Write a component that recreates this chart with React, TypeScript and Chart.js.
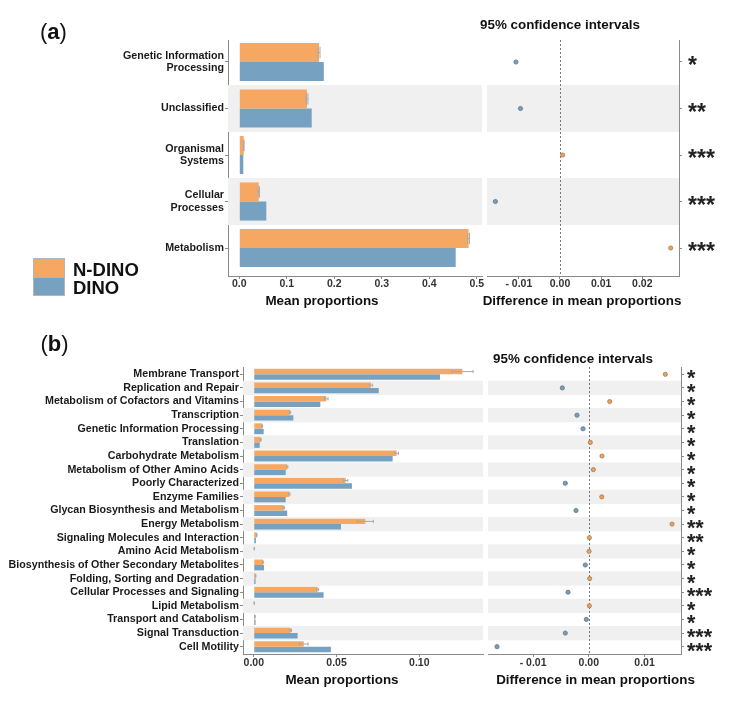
import React, { useEffect, useRef } from "react";
import { Chart, registerables } from "chart.js";
Chart.register(...registerables);

// ---------------- Panel (a) data ----------------
const A_CATEGORIES: (string | string[])[] = [
  ["Genetic Information", "Processing"],
  "Unclassified",
  ["Organismal", "Systems"],
  ["Cellular", "Processes"],
  "Metabolism",
];
const A_NDINO = [0.168, 0.1426, 0.0093, 0.0409, 0.483];
const A_DINO = [0.178, 0.1525, 0.0084, 0.0569, 0.4558];
const A_NDINO_ERR = [0.002, 0.002, 0.0008, 0.0015, 0.002];
const A_DIFF = [-0.0107, -0.0096, 0.00066, -0.0157, 0.0269];
const A_SIG = ["*", "**", "***", "***", "***"];
const A_BAR_TICKS = [0, 0.1, 0.2, 0.3, 0.4, 0.5];
const A_BAR_TICK_LABELS = ["0.0", "0.1", "0.2", "0.3", "0.4", "0.5"];
const A_CI_TICKS = [-0.01, 0, 0.01, 0.02];
const A_CI_TICK_LABELS = ["- 0.01", "0.00", "0.01", "0.02"];
const A_BAR_RANGE = [-0.0238, 0.5112];
const A_CI_RANGE = [-0.01774, 0.02892];
const A_ROW_RANGE = [-0.473, 4.602];

// ---------------- Panel (b) data ----------------
const B_CATEGORIES = [
  "Membrane Transport",
  "Replication and Repair",
  "Metabolism of Cofactors and Vitamins",
  "Transcription",
  "Genetic Information Processing",
  "Translation",
  "Carbohydrate Metabolism",
  "Metabolism of Other Amino Acids",
  "Poorly Characterized",
  "Enzyme Families",
  "Glycan Biosynthesis and Metabolism",
  "Energy Metabolism",
  "Signaling Molecules and Interaction",
  "Amino Acid Metabolism",
  "Biosynthesis of Other Secondary Metabolites",
  "Folding, Sorting and Degradation",
  "Cellular Processes and Signaling",
  "Lipid Metabolism",
  "Transport and Catabolism",
  "Signal Transduction",
  "Cell Motility",
];
const B_NDINO = [0.126, 0.0708, 0.0438, 0.0219, 0.005, 0.0042, 0.0863, 0.0202, 0.0555, 0.0215, 0.0181, 0.0674, 0.0018, 0.0003, 0.0056, 0.0011, 0.0386, 0.0003, 0.0007, 0.0223, 0.0302];
const B_DINO = [0.1125, 0.0755, 0.0402, 0.0239, 0.006, 0.0036, 0.0839, 0.0193, 0.0593, 0.0193, 0.0202, 0.0527, 0.0013, 0.0003, 0.0062, 0.0011, 0.0422, 0.0003, 0.0011, 0.0265, 0.0466];
const B_NDINO_ERR = [0.0065, 0.001, 0.0011, 0.0004, 0.0003, 0.0003, 0.0012, 0.0004, 0.0013, 0.0004, 0.0004, 0.0049, 0.0002, 0.0001, 0.0002, 0.0002, 0.0006, 0.0001, 0.0002, 0.0005, 0.0026];
const B_DIFF = [0.01374, -0.00476, 0.00375, -0.00212, -0.00104, 0.00027, 0.00237, 0.00081, -0.00422, 0.00232, -0.0023, 0.01494, 0.0001, 0.00004, -0.00063, 0.00015, -0.00373, 0.0001, -0.00045, -0.00422, -0.01648];
const B_SIG = ["*", "*", "*", "*", "*", "*", "*", "*", "*", "*", "*", "**", "**", "*", "*", "*", "***", "*", "*", "***", "***"];
const B_BAR_TICKS = [0, 0.05, 0.1];
const B_BAR_TICK_LABELS = ["0.00", "0.05", "0.10"];
const B_CI_TICKS = [-0.01, 0, 0.01];
const B_CI_TICK_LABELS = ["- 0.01", "0.00", "0.01"];
const B_BAR_RANGE = [-0.0065, 0.1385];
const B_CI_RANGE = [-0.0181, 0.01655];
const B_ROW_RANGE = [-0.536, 20.536];

// ---------------- styles ----------------
const FONT = "'Liberation Sans', Arial, Helvetica, sans-serif";
const ORANGE = "#F6A862";
const BLUE = "#76A1C1";
const BAND = "#F0F0F0";
const AXIS = "#8a8a8a";
const TICK_COLOR = "#333333";
const LABEL_COLOR = "#1a1a1a";
const PT_OR = "#E3A266";
const PT_OR_E = "#B07A48";
const PT_BL = "#7E9DB4";
const PT_BL_E = "#56768F";
const ERR = "#a8a8a8";

const tickFont = { family: FONT, size: 10.5, weight: "bold" as const, lineHeight: 1 };

function xAxis(range: number[], ticks: number[], labels: string[], height: number, pad: number) {
  return {
    type: "linear",
    position: "bottom",
    min: range[0],
    max: range[1],
    bounds: "data",
    offset: false,
    afterBuildTicks: (s: any) => {
      s.ticks = ticks.map((v) => ({ value: v }));
    },
    afterFit: (s: any) => {
      s.height = height;
    },
    ticks: {
      autoSkip: false,
      maxRotation: 0,
      minRotation: 0,
      padding: pad,
      color: TICK_COLOR,
      font: tickFont,
      callback: (_v: any, i: number) => labels[i],
    },
    grid: { display: true, offset: false, drawOnChartArea: false, drawTicks: true, tickLength: 3, color: AXIS, lineWidth: 1 },
    border: { display: true, color: AXIS, width: 1 },
  };
}

function rowAxis(rowRange: number[], labels: any[], width: number, position: string, font: any, color: string, pad: number, labelOffset: number) {
  return {
    type: "linear",
    position,
    reverse: true,
    min: rowRange[0],
    max: rowRange[1],
    bounds: "data",
    offset: false,
    afterBuildTicks: (s: any) => {
      s.ticks = labels.map((_l, i) => ({ value: i }));
    },
    afterFit: (s: any) => {
      s.width = width;
    },
    ticks: {
      autoSkip: false,
      padding: pad,
      color,
      font,
      labelOffset,
      callback: (_v: any, i: number) => labels[i],
    },
    grid: { display: true, offset: false, drawOnChartArea: false, drawTicks: true, tickLength: 3, color: AXIS, lineWidth: 1 },
    border: { display: true, color: AXIS, width: 1 },
  };
}

function bandRows(n: number) {
  const rows: number[] = [];
  for (let i = 1; i < n; i += 2) rows.push(i);
  return rows;
}

function errPlugin(vals: number[], errs: number[]) {
  return {
    id: "errbars",
    afterDatasetsDraw(chart: any) {
      const meta = chart.getDatasetMeta(0);
      const xs = chart.scales.x;
      const ctx = chart.ctx;
      ctx.save();
      ctx.strokeStyle = ERR;
      ctx.lineWidth = 1;
      meta.data.forEach((el: any, i: number) => {
        const y = el.y;
        const h = el.height;
        const x0 = xs.getPixelForValue(vals[i] - errs[i]);
        const x1 = xs.getPixelForValue(vals[i] + errs[i]);
        ctx.beginPath();
        ctx.moveTo(x0, y);
        ctx.lineTo(x1, y);
        ctx.moveTo(x0, y - h * 0.3);
        ctx.lineTo(x0, y + h * 0.3);
        ctx.moveTo(x1, y - h * 0.3);
        ctx.lineTo(x1, y + h * 0.3);
        ctx.stroke();
      });
      ctx.restore();
    },
  };
}

const zeroLinePlugin = {
  id: "zeroLine",
  afterDatasetDraw(chart: any, args: any) {
    if (args.meta.type !== "bar") return;
    const x = Math.round(chart.scales.x.getPixelForValue(0)) + 0.5;
    const { top, bottom } = chart.chartArea;
    const ctx = chart.ctx;
    ctx.save();
    ctx.strokeStyle = "#777777";
    ctx.lineWidth = 1;
    ctx.setLineDash([2, 2]);
    ctx.beginPath();
    ctx.moveTo(x, top);
    ctx.lineTo(x, bottom);
    ctx.stroke();
    ctx.restore();
  },
};

function barConfig(p: any) {
  const n = p.cats.length;
  return {
    type: "bar",
    data: {
      datasets: [
        {
          label: "N-DINO",
          data: p.ndino.map((v: number, i: number) => ({ x: v, y: i })),
          backgroundColor: ORANGE,
          borderWidth: 0,
          barPercentage: 1,
          categoryPercentage: p.catPct,
          order: 1,
        },
        {
          label: "DINO",
          data: p.dino.map((v: number, i: number) => ({ x: v, y: i })),
          backgroundColor: BLUE,
          borderWidth: 0,
          barPercentage: 1,
          categoryPercentage: p.catPct,
          order: 1,
        },
        {
          label: "band",
          data: bandRows(n).map((i) => ({ x: [p.xRange[0], p.xRange[1]], y: i })),
          backgroundColor: BAND,
          borderWidth: 0,
          grouped: false,
          barPercentage: 1,
          categoryPercentage: 1,
          order: 2,
        },
      ],
    },
    options: {
      indexAxis: "y",
      responsive: false,
      animation: false,
      devicePixelRatio: 1,
      layout: { autoPadding: false, padding: p.padding },
      plugins: { legend: { display: false }, tooltip: { enabled: false } },
      scales: {
        x: xAxis(p.xRange, p.ticks, p.tickLabels, p.xHeight, p.xPad),
        y: rowAxis(p.rowRange, p.cats, p.yWidth, "left", { family: FONT, size: 10.7, weight: "bold", lineHeight: 1.2 }, LABEL_COLOR, 1, 0),
      },
    },
    plugins: [errPlugin(p.ndino, p.err)],
  };
}

function ciConfig(p: any) {
  const n = p.diff.length;
  return {
    type: "bar",
    data: {
      datasets: [
        {
          type: "scatter",
          label: "diff",
          data: p.diff.map((d: number, i: number) => ({ x: d, y: i })),
          pointRadius: 2.1,
          pointBorderWidth: 0.8,
          pointBackgroundColor: p.diff.map((d: number) => (d >= 0 ? PT_OR : PT_BL)),
          pointBorderColor: p.diff.map((d: number) => (d >= 0 ? PT_OR_E : PT_BL_E)),
          order: 1,
        },
        {
          type: "bar",
          label: "band",
          data: bandRows(n).map((i) => ({ x: [p.xRange[0], p.xRange[1]], y: i })),
          backgroundColor: BAND,
          borderWidth: 0,
          grouped: false,
          barPercentage: 1,
          categoryPercentage: 1,
          order: 2,
        },
      ],
    },
    options: {
      indexAxis: "y",
      responsive: false,
      animation: false,
      devicePixelRatio: 1,
      layout: { autoPadding: false, padding: p.padding },
      plugins: { legend: { display: false }, tooltip: { enabled: false } },
      scales: {
        x: xAxis(p.xRange, p.ticks, p.tickLabels, p.xHeight, p.xPad),
        y: rowAxis(p.rowRange, p.sig, p.yWidth, "right", { family: FONT, size: p.starSize, weight: "bold", lineHeight: 1 }, "#222222", p.starPad, p.starOffset),
      },
    },
    plugins: [zeroLinePlugin],
  };
}

function ChartBox(props: { left: number; top: number; width: number; height: number; make: () => any }) {
  const ref = useRef<HTMLCanvasElement>(null);
  useEffect(() => {
    const chart = new Chart(ref.current as HTMLCanvasElement, props.make());
    return () => chart.destroy();
  }, []);
  return (
    <canvas
      ref={ref}
      width={props.width}
      height={props.height}
      style={{ position: "absolute", left: props.left, top: props.top, width: props.width, height: props.height }}
    />
  );
}

function Txt(props: { x: number; y: number; size: number; children: any; center?: boolean; weight?: number }) {
  return (
    <div
      style={{
        position: "absolute",
        left: props.x,
        top: props.y,
        transform: props.center === false ? "translateY(-50%)" : "translate(-50%,-50%)",
        fontFamily: FONT,
        fontSize: props.size,
        fontWeight: props.weight ?? 700,
        lineHeight: 1,
        whiteSpace: "nowrap",
        color: "#111",
      }}
    >
      {props.children}
    </div>
  );
}

export default function App() {
  return (
    <div style={{ position: "absolute", left: 0, top: 0, width: 738, height: 705, background: "#fff", overflow: "hidden" }}>
      <ChartBox
        left={0}
        top={0}
        width={490}
        height={320}
        make={() =>
          barConfig({
            cats: A_CATEGORIES,
            ndino: A_NDINO,
            dino: A_DINO,
            err: A_NDINO_ERR,
            xRange: A_BAR_RANGE,
            rowRange: A_ROW_RANGE,
            ticks: A_BAR_TICKS,
            tickLabels: A_BAR_TICK_LABELS,
            yWidth: 228,
            xHeight: 44,
            xPad: 0,
            catPct: 0.82,
            padding: { top: 40, right: 8, left: 0, bottom: 0 },
          })
        }
      />
      <ChartBox
        left={480}
        top={0}
        width={258}
        height={320}
        make={() =>
          ciConfig({
            diff: A_DIFF,
            sig: A_SIG,
            xRange: A_CI_RANGE,
            rowRange: A_ROW_RANGE,
            ticks: A_CI_TICKS,
            tickLabels: A_CI_TICK_LABELS,
            yWidth: 59,
            xHeight: 44,
            xPad: 0,
            starSize: 23,
            starPad: 6,
            starOffset: 5,
            padding: { top: 40, right: 0, left: 7, bottom: 0 },
          })
        }
      />
      <ChartBox
        left={0}
        top={330}
        width={490}
        height={375}
        make={() =>
          barConfig({
            cats: B_CATEGORIES,
            ndino: B_NDINO,
            dino: B_DINO,
            err: B_NDINO_ERR,
            xRange: B_BAR_RANGE,
            rowRange: B_ROW_RANGE,
            ticks: B_BAR_TICKS,
            tickLabels: B_BAR_TICK_LABELS,
            yWidth: 243,
            xHeight: 51,
            xPad: 1,
            catPct: 0.8,
            padding: { top: 37, right: 7, left: 0, bottom: 0 },
          })
        }
      />
      <ChartBox
        left={480}
        top={330}
        width={258}
        height={375}
        make={() =>
          ciConfig({
            diff: B_DIFF,
            sig: B_SIG,
            xRange: B_CI_RANGE,
            rowRange: B_ROW_RANGE,
            ticks: B_CI_TICKS,
            tickLabels: B_CI_TICK_LABELS,
            yWidth: 57,
            xHeight: 51,
            xPad: 1,
            starSize: 21.5,
            starPad: 3,
            starOffset: 5,
            padding: { top: 37, right: 0, left: 8, bottom: 0 },
          })
        }
      />

      {/* panel labels */}
      <Txt x={40} y={32} size={22} center={false} weight={400}>
        (<b>a</b>)
      </Txt>
      <Txt x={40.5} y={344} size={22} center={false} weight={400}>
        (<b>b</b>)
      </Txt>

      {/* titles */}
      <Txt x={560} y={25} size={13.4}>95% confidence intervals</Txt>
      <Txt x={322} y={301} size={13.4}>Mean proportions</Txt>
      <Txt x={582} y={301} size={13.4}>Difference in mean proportions</Txt>
      <Txt x={573} y={359} size={13.4}>95% confidence intervals</Txt>
      <Txt x={342} y={680} size={13.4}>Mean proportions</Txt>
      <Txt x={595.5} y={680} size={13.4}>Difference in mean proportions</Txt>

      {/* legend */}
      <div style={{ position: "absolute", left: 33, top: 258, width: 32, height: 20, background: ORANGE, border: "1px solid #b5b5b5", boxSizing: "border-box" }} />
      <div style={{ position: "absolute", left: 33, top: 277, width: 32, height: 19, background: BLUE, border: "1px solid #b5b5b5", boxSizing: "border-box" }} />
      <Txt x={73} y={270} size={18.5} center={false}>N-DINO</Txt>
      <Txt x={73} y={288} size={18.5} center={false}>DINO</Txt>
    </div>
  );
}
